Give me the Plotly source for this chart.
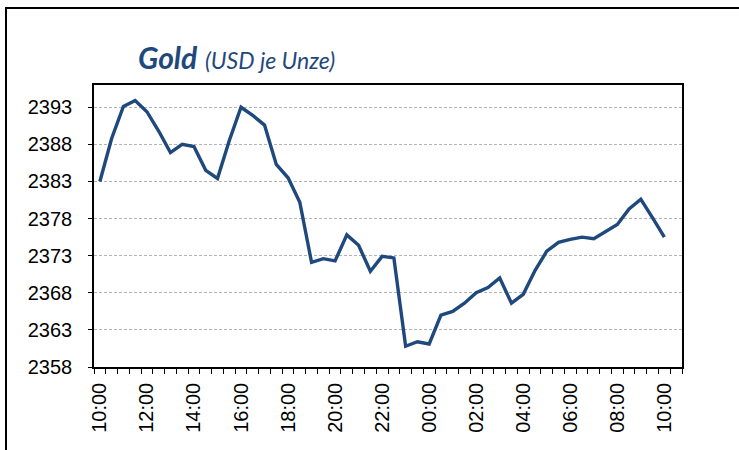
import plotly.graph_objects as go

times = ["10:00", "10:30", "11:00", "11:30", "12:00", "12:30", "13:00", "13:30",
         "14:00", "14:30", "15:00", "15:30", "16:00", "16:30", "17:00", "17:30",
         "18:00", "18:30", "19:00", "19:30", "20:00", "20:30", "21:00", "21:30",
         "22:00", "22:30", "23:00", "23:30", "00:00", "00:30", "01:00", "01:30",
         "02:00", "02:30", "03:00", "03:30", "04:00", "04:30", "05:00", "05:30",
         "06:00", "06:30", "07:00", "07:30", "08:00", "08:30", "09:00", "09:30",
         "10:00"]

gold = [2383.0, 2388.8, 2393.1, 2393.9, 2392.4, 2389.8, 2386.9, 2388.0,
        2387.7, 2384.5, 2383.4, 2388.5, 2393.0, 2391.9, 2390.6, 2385.3,
        2383.5, 2380.2, 2372.1, 2372.6, 2372.3, 2375.8, 2374.4, 2370.9,
        2372.9, 2372.7, 2360.8, 2361.4, 2361.1, 2365.0, 2365.5, 2366.6,
        2368.0, 2368.7, 2370.0, 2366.6, 2367.8, 2371.0, 2373.6, 2374.8,
        2375.2, 2375.5, 2375.3, 2376.3, 2377.2, 2379.3, 2380.6, 2378.1,
        2375.5]

y_ticks = [2358, 2363, 2368, 2373, 2378, 2383, 2388, 2393]
n_slots = 50  # category slots on the axis (last one empty)

x_idx = list(range(len(times)))
tickvals = [i for i, t in enumerate(times) if t.endswith(":00") and int(t[:2]) % 2 == 0]
ticktext = [times[i] for i in tickvals]

W, H = 739, 450
L, R, T, B = 94, 57, 85, 83
pw, ph = W - L - R, H - T - B

line_col = "#1F497D"
fig = go.Figure()
fig.add_trace(go.Scatter(x=x_idx, y=gold, mode="lines",
                         line=dict(color=line_col, width=3.4),
                         hoverinfo="skip", showlegend=False))

fig.update_layout(
    width=W, height=H,
    margin=dict(l=L, r=R, t=T, b=B),
    paper_bgcolor="white", plot_bgcolor="white",
    font=dict(family="Liberation Sans, Arial", size=20, color="black"),
    xaxis=dict(
        range=[-0.5, n_slots - 0.5],
        tickmode="array", tickvals=tickvals, ticktext=ticktext,
        tickangle=-90, ticks="", showgrid=False,
        showline=True, linecolor="black", linewidth=1.5, mirror=True,
        ticklabelstandoff=6,
        minor=dict(tick0=-0.5, dtick=1, ticks="outside", ticklen=5,
                   tickcolor="black", tickwidth=1, showgrid=False),
        zeroline=False,
    ),
    yaxis=dict(
        range=[2358, 2396],
        tickmode="array", tickvals=y_ticks,
        ticks="outside", ticklen=4, tickcolor="black",
        showgrid=True, gridcolor="#B4B4B4", griddash="3px,2px", gridwidth=1,
        showline=True, linecolor="black", linewidth=1.5, mirror=True,
        ticklabelstandoff=12,
        zeroline=False,
    ),
)

# outer chart frame
fig.add_shape(type="rect", xref="paper", yref="paper",
              x0=(6 - L) / pw, x1=2.0, y0=-1.0, y1=(H - B - 8) / ph,
              line=dict(color="black", width=2), fillcolor="rgba(0,0,0,0)")

# title
fig.add_annotation(xref="paper", yref="paper",
                   x=(236 - L) / pw, y=(H - B - 57) / ph,
                   xanchor="center", yanchor="middle", showarrow=False,
                   text="<b><i>Gold</i></b> <i><span style='font-size:23px'>(USD je Unze)</span></i>",
                   font=dict(family="Lato, Open Sans", size=30, color=line_col))

fig.write_html("out.html", config={"displayModeBar": False},
               post_script="document.body.style.margin='0';")
